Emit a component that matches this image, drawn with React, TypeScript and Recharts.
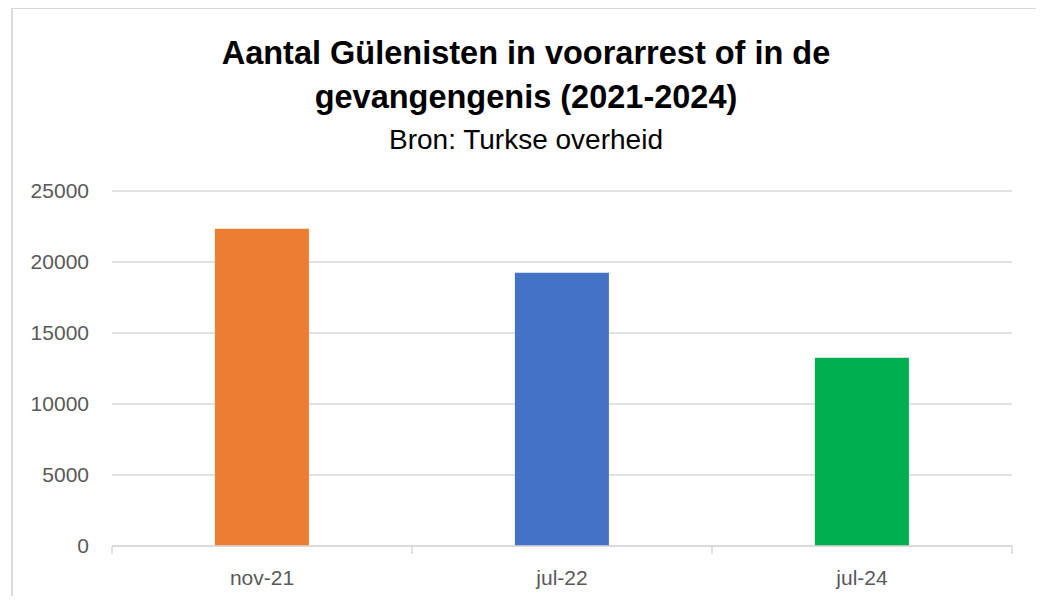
import React from 'react';
import { BarChart, Bar, XAxis, YAxis, CartesianGrid, Cell } from 'recharts';

// chart data
const categories = ['nov-21', 'jul-22', 'jul-24'];
const values = [22350, 19250, 13250];
const barColors = ['#ED7D31', '#4472C4', '#00B050'];
const yTicks = [0, 5000, 10000, 15000, 20000, 25000];

const titleLines = ['Aantal Gülenisten in voorarrest of in de', 'gevangengenis (2021-2024)'];
const subtitle = 'Bron: Turkse overheid';

const data = categories.map((name, i) => ({ name, value: values[i] }));

const FONT = "'Liberation Sans', Arial, sans-serif";
const GRID = '#d9d9d9';
const LABEL = '#595959';

const CHART_W = 1044;
const CHART_H = 604;
const MARGIN = { top: 191, right: 32, bottom: 18, left: 12 };
const Y_WIDTH = 100;
const X_MARGIN = 24;

// category label plus Excel-style tick marks on the band edges
const CategoryTick = (props: any) => {
  const { x, y, payload, index, visibleTicksCount, width } = props;
  const count = visibleTicksCount || categories.length;
  const plotW = width || CHART_W - MARGIN.left - MARGIN.right - Y_WIDTH;
  const half = plotW / count / 2;
  const axisY = y - X_MARGIN;
  return (
    <g>
      <line x1={x - half} x2={x - half} y1={axisY} y2={axisY + 8} stroke={GRID} strokeWidth={1.5} />
      {index === count - 1 && (
        <line x1={x + half} x2={x + half} y1={axisY} y2={axisY + 8} stroke={GRID} strokeWidth={1.5} />
      )}
      <text x={x} y={y} dy="0.71em" textAnchor="middle" fill={LABEL} fontSize={21} fontFamily={FONT}>
        {payload.value}
      </text>
    </g>
  );
};

export default function App() {
  return (
    <div
      style={{
        position: 'relative',
        width: CHART_W,
        height: CHART_H,
        margin: -8,
        overflow: 'hidden',
        background: '#fff',
        fontFamily: FONT,
      }}
    >
      <div
        style={{
          position: 'absolute',
          left: 11,
          top: 7,
          width: 1029,
          height: 700,
          border: `2px solid ${GRID}`,
          boxSizing: 'border-box',
        }}
      />
      <svg
        width={CHART_W}
        height={CHART_H}
        style={{ position: 'absolute', left: 0, top: 0, pointerEvents: 'none' }}
      >
        <text x={526} y={64} textAnchor="middle" fontSize={32.5} fontWeight="bold" fill="#000" fontFamily={FONT}>
          {titleLines[0]}
        </text>
        <text x={526} y={108} textAnchor="middle" fontSize={32.5} fontWeight="bold" fill="#000" fontFamily={FONT}>
          {titleLines[1]}
        </text>
        <text x={526} y={149} textAnchor="middle" fontSize={28} fill="#000" fontFamily={FONT}>
          {subtitle}
        </text>
      </svg>
      <div style={{ position: 'absolute', left: 0, top: 0 }}>
        <BarChart width={CHART_W} height={CHART_H} data={data} margin={MARGIN} barCategoryGap="34.3%">
          <CartesianGrid vertical={false} stroke={GRID} strokeWidth={1.5} />
          <XAxis
            dataKey="name"
            height={40}
            axisLine={{ stroke: GRID, strokeWidth: 1.5 }}
            tickLine={false}
            tickSize={0}
            tickMargin={X_MARGIN}
            interval={0}
            tick={<CategoryTick />}
          />
          <YAxis
            width={Y_WIDTH}
            domain={[0, 25000]}
            ticks={yTicks}
            axisLine={false}
            tickLine={false}
            tickSize={0}
            tickMargin={23}
            tick={{ fill: LABEL, fontSize: 21, fontFamily: FONT }}
          />
          <Bar dataKey="value" isAnimationActive={false}>
            {data.map((d, i) => (
              <Cell key={d.name} fill={barColors[i]} />
            ))}
          </Bar>
        </BarChart>
      </div>
    </div>
  );
}
